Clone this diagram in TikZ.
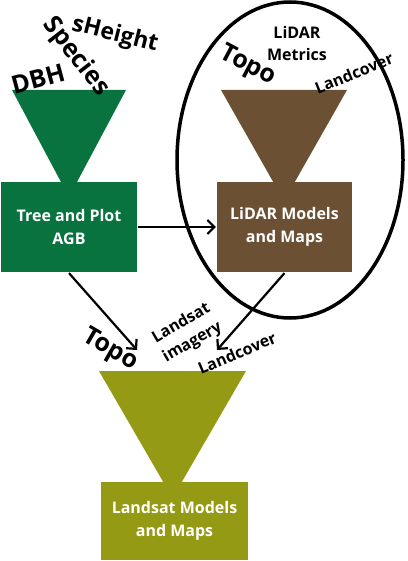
\documentclass[tikz,border=0pt]{standalone}
\usepackage{fontspec}
\setmainfont{Open Sans}
\usetikzlibrary{arrows.meta, positioning, calc}
\definecolor{treegreen}{HTML}{08733F}
\definecolor{lidarbrown}{HTML}{6B5034}
\definecolor{landsatolive}{HTML}{949A13}
\tikzset{
  box/.style={text=white, font=\bfseries\fontsize{16}{23}\selectfont, align=center,
    minimum width=136pt, minimum height=90pt, inner sep=0pt},
  lbl/.style={font=\bfseries\fontsize{25}{28}\selectfont, inner sep=0pt},
  sublbl/.style={font=\bfseries\fontsize{16}{22}\selectfont, inner sep=0pt, align=center},
}

\begin{document}
\begin{tikzpicture}[x=1pt, y=-1pt, line width=2.2pt, >={Straight Barb[length=7pt]}]
    \useasboundingbox (0,0) rectangle (407,561);

    % funnels
    \fill[treegreen] (12,90) -- (126,90) -- (69,197) -- cycle;
    \fill[lidarbrown] (221,90) -- (347,90) -- (284,201) -- cycle;
    \fill[landsatolive] (99,371) -- (246,371) -- (172.5,498) -- cycle;

    \node[box, fill=treegreen] (agb) at (69,227) {Tree and Plot\\AGB};
    \node[box, fill=lidarbrown, minimum width=135pt] (lidar) at (284.5,227) {LiDAR Models\\and Maps};
    \node[box, fill=landsatolive, minimum width=147pt, minimum height=78pt] (landsat) at (174.5,521) {Landsat Models\\and Maps};

    \draw[line width=3.5pt] (290,160) ellipse [x radius=113, y radius=158];

    % inputs
    \node[lbl, rotate=15] (dbh) at (38,79) {DBH};
    \node[lbl, rotate=-52] (species) at (76,57) {Species};
    \node[lbl, rotate=-14, font=\bfseries\fontsize{23}{26}\selectfont] (height) at (115,35) {sHeight};

    \node[sublbl] (metrics) at (297,44) {LiDAR\\Metrics};
    \node[lbl, rotate=-28] (topo) at (248,66) {Topo};
    \node[sublbl, rotate=22] (cover) at (354,73) {Landcover};

    \node[lbl, rotate=-30] (topolow) at (110,350) {Topo};
    \node[sublbl, rotate=30] (imagery) at (187,333) {Landsat\\imagery};
    \node[sublbl, rotate=23] (coverlow) at (237,353) {Landcover};

    \coordinate (topoend) at (137,350);
    \coordinate (coverend) at (217,350);

    \draw[->] (agb) -- (lidar);
    \draw[->] (agb.south) -- (topoend);
    \draw[->] (lidar.south) -- (coverend);
\end{tikzpicture}
\end{document}
